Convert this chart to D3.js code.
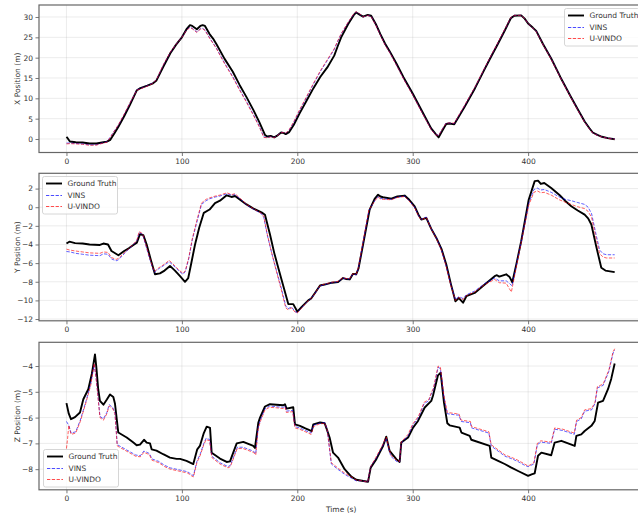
<!DOCTYPE html>
<html>
<head>
<meta charset="utf-8">
<script src="https://cdn.jsdelivr.net/npm/d3@7"></script>
<style>
  html, body { margin: 0; padding: 0; background: #fff; }
  svg { display: block; font-family: "DejaVu Sans", sans-serif; }
</style>
</head>
<body>
<svg id="chart" width="638" height="516"></svg>
<script>
// ---- data: [time (s), position (m)] ----
const timeTicks = [0, 100, 200, 300, 400];

const xTruth = [[0,0.5],[1,0.2],[3,-0.6],[8,-0.8],[14,-0.85],[20,-1.1],[26,-1.1],[32,-0.8],[35,-0.65],[38,-0.2],[42,1.6],[45,3.0],[50,5.6],[55,8.4],[61,12.0],[64,12.5],[70,13.1],[75,13.7],[78,14.4],[84,17.8],[90,21.1],[95,23.2],[100,25.0],[104,27.0],[107,28.0],[109,27.8],[113,27.0],[116,27.8],[118,28.0],[120,27.8],[124,25.8],[127,24.7],[130,23.3],[137,19.7],[144,16.6],[150,13.3],[156,10.3],[162,7.1],[167,4.2],[172,1.0],[174,0.6],[177,0.75],[180,0.4],[183,0.9],[186,1.6],[188,1.5],[190,1.2],[193,1.7],[197,3.5],[202,6.3],[208,9.4],[214,12.5],[220,15.3],[226,17.6],[232,20.5],[235,22.8],[238,25.0],[244,28.2],[249,30.5],[251,31.1],[254,30.6],[257,30.1],[261,30.5],[264,30.3],[268,28.3],[272,25.8],[276,23.5],[280,21.6],[286,18.5],[292,15.2],[300,11.2],[308,6.9],[316,2.6],[320,1.2],[322.5,0.4],[326,2.2],[329,3.7],[332,3.8],[336,3.6],[340,5.5],[345,7.9],[354,12.5],[362,17.0],[368,20.3],[374,23.5],[380,26.8],[385,29.7],[388,30.3],[394,30.4],[397,29.6],[400,28.4],[404,27.4],[407,26.6],[413,23.3],[420,19.8],[428,15.2],[437,10.4],[443,7.3],[449,4.3],[453,2.7],[456,1.6],[460,1.0],[464,0.55],[469,0.2],[475,-0.05]];
const xVins = [[0,-1.0],[3,-1.0],[8,-1.1],[14,-1.2],[20,-1.45],[26,-1.4],[32,-0.9],[35,-0.7],[38,0.5],[42,2.2],[45,3.4],[50,6.0],[55,8.8],[61,12.1],[64,12.4],[70,13.1],[75,13.8],[78,14.6],[84,18.2],[90,21.3],[95,23.3],[100,25.0],[104,26.8],[107,27.5],[109,27.2],[113,26.3],[116,27.1],[118,27.2],[120,26.8],[124,24.9],[127,23.6],[130,22.3],[137,18.7],[144,15.4],[150,12.2],[156,9.2],[162,6.0],[167,3.2],[171,0.5],[174,0.4],[177,0.6],[180,0.35],[183,0.95],[186,1.6],[188,1.6],[190,1.4],[193,2.2],[197,4.1],[202,7.0],[208,10.2],[214,13.5],[220,16.6],[226,19.3],[232,22.0],[235,24.0],[238,25.8],[244,28.6],[249,30.7],[251,31.2],[254,30.7],[257,30.0],[261,30.4],[264,30.2],[268,28.1],[272,25.6],[276,23.2],[280,21.4],[286,18.2],[292,14.9],[300,10.9],[308,6.6],[316,2.4],[320,1.1],[322.5,0.9],[326,2.6],[329,3.9],[332,3.9],[336,3.8],[340,5.8],[345,8.2],[354,12.7],[362,17.2],[368,20.5],[374,23.7],[380,27.0],[385,29.8],[388,30.4],[394,30.4],[397,29.6],[400,28.4],[404,27.3],[407,26.5],[413,23.2],[420,19.7],[428,15.1],[437,10.3],[443,7.2],[449,4.2],[453,2.6],[456,1.5],[460,0.95],[464,0.5],[469,0.2],[475,0.0]];
const xUvindo = [[0,-1.2],[3,-1.15],[8,-1.2],[14,-1.3],[20,-1.55],[26,-1.5],[32,-1.0],[35,-0.8],[38,0.4],[42,2.2],[45,3.5],[50,6.1],[55,8.9],[61,12.0],[64,12.3],[70,13.0],[75,13.7],[78,14.6],[84,18.3],[90,21.4],[95,23.3],[100,25.0],[104,26.7],[107,27.4],[109,27.1],[113,26.2],[116,27.0],[118,27.1],[120,26.7],[124,24.8],[127,23.5],[130,22.2],[137,18.5],[144,15.2],[150,12.0],[156,9.0],[162,5.8],[167,3.0],[171,0.4],[174,0.3],[177,0.55],[180,0.3],[183,0.9],[186,1.55],[188,1.6],[190,1.45],[193,2.3],[197,4.3],[202,7.2],[208,10.4],[214,13.7],[220,16.8],[226,19.5],[232,22.2],[235,24.1],[238,25.9],[244,28.7],[249,30.8],[251,31.3],[254,30.8],[257,30.0],[261,30.4],[264,30.1],[268,28.0],[272,25.5],[276,23.1],[280,21.3],[286,18.1],[292,14.8],[300,10.8],[308,6.5],[316,2.3],[320,1.0],[322.5,0.9],[326,2.6],[329,3.9],[332,3.95],[336,3.9],[340,5.9],[345,8.3],[354,12.8],[362,17.3],[368,20.6],[374,23.8],[380,27.1],[385,29.9],[388,30.4],[394,30.4],[397,29.6],[400,28.4],[404,27.3],[407,26.4],[413,23.1],[420,19.6],[428,15.0],[437,10.2],[443,7.1],[449,4.1],[453,2.5],[456,1.5],[460,0.9],[464,0.5],[469,0.15],[475,-0.05]];

const yTruth = [[0,-3.9],[2.5,-3.7],[7.5,-3.85],[14,-3.9],[20,-4.0],[29,-4.05],[32,-3.9],[36,-4.0],[39,-4.7],[45,-5.15],[50,-4.7],[54,-4.4],[58,-4.05],[61,-3.8],[63.7,-2.9],[66.6,-3.0],[69.5,-4.0],[73,-5.6],[76.7,-7.2],[81,-7.1],[85,-6.8],[89.7,-6.3],[94,-6.8],[98.4,-7.4],[102.7,-8.0],[105.5,-7.6],[108,-6.1],[111.4,-4.0],[115,-2.2],[119,-0.6],[124,-0.25],[128.7,0.45],[133,0.7],[138.8,1.28],[143,1.1],[146,1.2],[151,0.75],[156,0.3],[162,-0.15],[169,-0.55],[172,-0.8],[176.3,-2.9],[180,-4.9],[183.5,-6.5],[188,-8.5],[192.2,-10.4],[196.5,-10.4],[200,-11.2],[203.8,-10.7],[209.5,-10.0],[212,-9.8],[215.3,-9.2],[219.7,-8.4],[223.7,-8.3],[230,-8.1],[235.3,-8.04],[239.6,-7.6],[242,-7.7],[245.4,-7.75],[248.3,-7.15],[251,-7.2],[253,-6.6],[257,-4.0],[262.7,-0.25],[267,0.9],[270,1.35],[272,1.15],[274.3,1.07],[281.5,0.92],[286.7,1.15],[293,1.25],[297,0.8],[301.7,0.1],[305,-0.8],[307.5,-1.33],[311.8,-1.15],[316,-2.3],[320.5,-3.3],[325,-4.5],[329.1,-6.15],[333,-8.2],[337,-10.1],[340,-9.75],[343.6,-10.25],[346.5,-9.55],[353.7,-9.2],[362.4,-8.3],[371,-7.4],[373,-7.3],[375,-7.45],[381,-7.2],[384,-7.5],[386.3,-8.05],[390,-6.0],[394,-3.65],[400.5,0.8],[405.7,2.8],[408.6,2.85],[411,2.5],[414,2.6],[420,2.07],[427.4,1.28],[432,0.7],[437.4,0.1],[443,-0.35],[449,-0.8],[452,-1.2],[454.8,-1.86],[459,-4.2],[463.4,-6.5],[467,-6.8],[475,-6.97]];
const yVins = [[0,-4.75],[3,-4.8],[8,-4.95],[14,-5.05],[20,-5.15],[29,-5.2],[32,-5.0],[36,-5.05],[39,-5.55],[43,-5.75],[45,-5.65],[50,-5.0],[54,-4.5],[58,-4.0],[61,-3.6],[63,-2.7],[66,-2.9],[68.5,-4.0],[72,-5.5],[76,-7.0],[80,-6.6],[85,-6.2],[89,-5.85],[94,-6.4],[98,-6.9],[101,-7.2],[103,-6.9],[106,-5.5],[109,-3.5],[113,-1.6],[117,0.3],[121,0.7],[124,0.9],[129,1.1],[133,1.2],[139,1.45],[143,1.3],[146,1.35],[151,0.85],[156,0.25],[162,-0.2],[169,-0.7],[171,-1.1],[174,-3.0],[178,-5.0],[181.5,-6.6],[186,-8.6],[190,-10.6],[192,-10.9],[195,-10.7],[198,-11.2],[200,-11.3],[203,-10.9],[208,-10.2],[212,-9.8],[215,-9.3],[219.7,-8.45],[223.7,-8.3],[230,-8.1],[235.3,-8.0],[239.6,-7.6],[242,-7.7],[245.4,-7.7],[248,-7.2],[251,-7.25],[253,-6.5],[262,-0.4],[267,0.7],[270,1.15],[272,0.95],[274.3,0.9],[281.5,0.85],[286.7,1.1],[293,1.2],[297,0.7],[301.7,0.0],[305,-0.9],[307.5,-1.3],[311.8,-1.05],[316,-2.3],[320.5,-3.3],[325,-4.6],[329,-6.3],[333,-8.3],[337,-9.9],[340,-9.6],[343.6,-9.8],[346.5,-9.4],[353.7,-9.0],[362.4,-8.2],[371,-7.6],[375,-7.9],[381,-7.9],[384,-8.2],[386,-8.45],[390,-6.1],[394,-3.7],[400.5,0.4],[405,1.9],[408,2.05],[411,1.85],[414,1.9],[420,1.6],[427,1.1],[432,0.85],[437.4,0.7],[443,0.5],[449,0.3],[452,0.0],[455,-0.7],[459,-3.0],[462,-4.6],[465,-5.0],[468,-5.1],[475,-5.1]];
const yUvindo = [[0,-4.5],[3,-4.6],[8,-4.7],[14,-4.8],[20,-4.9],[29,-4.95],[32,-4.8],[36,-4.85],[39,-5.4],[43,-5.6],[45,-5.5],[50,-4.9],[54,-4.45],[58,-3.95],[61,-3.55],[63,-2.6],[66,-2.85],[68.5,-3.9],[72,-5.4],[76,-6.9],[80,-6.5],[85,-6.1],[89,-5.7],[94,-6.3],[98,-6.8],[101,-7.1],[103,-6.8],[106,-5.4],[109,-3.4],[113,-1.4],[117,0.45],[121,0.85],[124,1.0],[129,1.2],[133,1.3],[139,1.55],[143,1.35],[146,1.45],[151,0.9],[156,0.3],[162,-0.15],[169,-0.65],[171,-1.0],[174,-2.9],[178,-5.0],[181.5,-6.7],[186,-8.8],[190,-10.8],[192,-11.0],[195,-10.8],[198,-11.25],[200,-11.35],[203,-10.95],[208,-10.2],[212,-9.8],[215,-9.3],[219.7,-8.4],[223.7,-8.25],[230,-8.05],[235.3,-7.95],[239.6,-7.55],[242,-7.65],[245.4,-7.65],[248,-7.15],[251,-7.2],[253,-6.45],[262,-0.3],[267,0.65],[270,1.1],[272,0.9],[274.3,0.85],[281.5,0.8],[286.7,1.05],[293,1.15],[297,0.65],[301.7,-0.05],[305,-0.95],[307.5,-1.35],[311.8,-1.1],[316,-2.35],[320.5,-3.35],[325,-4.65],[329,-6.35],[333,-8.4],[337,-10.0],[340,-9.7],[343.6,-9.9],[346.5,-9.5],[353.7,-9.1],[362.4,-8.3],[371,-7.75],[375,-8.1],[381,-8.15],[384,-8.8],[385.5,-9.1],[390,-6.3],[394,-3.8],[400.5,0.2],[405,1.6],[408,1.75],[411,1.55],[414,1.6],[420,1.3],[427,0.8],[432,0.55],[437.4,0.3],[443,0.05],[449,-0.15],[452,-0.45],[455,-1.1],[459,-3.4],[462,-5.0],[465,-5.35],[468,-5.45],[475,-5.45]];

const zTruth = [[0,-5.44],[2,-5.85],[3.9,-6.06],[7.4,-5.98],[11.7,-5.8],[14.6,-5.29],[18.9,-4.9],[22,-4.3],[24.7,-3.55],[26,-4.1],[27.5,-4.9],[29,-5.35],[32,-5.5],[35,-5.3],[37.7,-5.1],[40.6,-5.2],[42,-5.45],[44.9,-6.58],[52.2,-6.77],[58,-6.97],[60.8,-7.07],[63.7,-7.05],[67.2,-6.86],[69.5,-6.97],[72.4,-7.0],[73.8,-7.23],[78,-7.28],[83.8,-7.42],[89.7,-7.55],[95.4,-7.6],[98.4,-7.6],[104,-7.68],[109.9,-7.8],[113.3,-7.23],[115.6,-7.1],[119,-6.6],[121.5,-6.35],[124.4,-6.4],[125.8,-7.36],[133,-7.59],[138.8,-7.72],[141.7,-7.7],[144.5,-7.36],[147.5,-7.0],[150.4,-6.97],[153.2,-6.94],[161.9,-7.1],[163.3,-7.18],[166.2,-6.2],[167.7,-6.0],[172,-5.57],[176.3,-5.48],[182,-5.5],[187.9,-5.52],[189.3,-5.48],[190.7,-5.65],[196.5,-5.6],[198,-6.26],[202.3,-6.32],[207,-6.42],[212.5,-6.52],[213.9,-6.26],[219.7,-6.19],[223.7,-6.22],[225,-6.38],[228,-6.77],[231,-7.36],[235.3,-7.55],[241,-8.0],[246.8,-8.29],[251.1,-8.41],[256,-8.45],[261.3,-8.49],[263.6,-7.94],[268.5,-7.61],[274.3,-7.1],[277.1,-6.74],[280,-7.29],[285.8,-7.61],[288.7,-7.72],[290.1,-6.97],[296,-6.77],[300.3,-6.39],[304.6,-6.13],[310.4,-5.61],[316.1,-5.35],[317.5,-5.16],[321.9,-4.36],[324.2,-4.26],[327.1,-5.42],[330,-6.22],[332,-6.3],[340.7,-6.39],[342.2,-6.58],[349.4,-6.71],[350.8,-6.86],[366.7,-7.1],[368.1,-7.55],[374,-7.68],[379.7,-7.8],[385.5,-7.94],[391.3,-8.07],[400,-8.26],[403,-8.2],[405.7,-8.16],[408.6,-7.48],[411.5,-7.36],[420,-7.46],[423,-6.97],[428.8,-6.9],[440.4,-7.1],[441.8,-6.71],[446.1,-6.65],[449,-6.52],[454.8,-6.32],[457.7,-6.13],[460.6,-5.42],[464.9,-5.35],[469.2,-4.9],[472,-4.5],[475,-3.9]];
const zVins = [[0,-6.15],[2,-6.3],[4,-6.6],[8,-6.55],[12,-6.1],[17,-5.35],[21,-4.7],[24,-3.95],[25.5,-4.4],[27,-5.0],[29,-5.95],[32,-6.05],[35,-5.8],[37,-5.5],[40,-5.6],[42,-5.8],[44,-7.05],[52,-7.25],[58,-7.4],[60,-7.45],[64,-7.48],[67,-7.3],[70,-7.35],[72,-7.4],[74,-7.6],[80,-7.7],[85,-7.85],[90,-7.95],[100,-8.05],[105,-8.1],[108,-8.2],[110,-8.25],[113,-7.7],[116,-7.4],[119,-7.0],[121,-6.8],[124,-6.85],[126,-7.5],[133,-7.75],[140,-7.9],[142,-7.85],[145,-7.5],[148,-7.15],[153,-7.15],[162,-7.3],[164,-7.4],[166,-6.4],[168,-6.1],[172,-5.65],[176,-5.55],[182,-5.58],[188,-5.6],[189.5,-5.55],[190.5,-5.75],[196,-5.72],[198,-6.35],[202,-6.4],[207,-6.5],[212,-6.6],[214,-6.3],[219,-6.22],[224,-6.2],[226,-6.5],[229.5,-7.8],[235,-8.0],[241,-8.2],[247,-8.35],[251,-8.45],[256,-8.45],[261,-8.5],[263.6,-7.9],[268,-7.6],[274,-7.1],[277,-6.8],[281,-7.5],[286,-7.7],[288.7,-7.72],[290,-7.0],[296,-6.7],[300,-6.3],[305,-6.0],[310,-5.45],[314,-5.35],[316,-5.1],[318,-4.9],[322,-4.05],[324,-4.1],[327,-5.2],[330,-5.85],[338,-5.9],[340,-5.9],[342,-6.15],[350,-6.2],[351,-6.4],[366,-6.6],[368,-7.1],[374,-7.3],[380,-7.5],[386,-7.6],[391,-7.7],[397,-7.85],[400,-7.9],[405,-7.8],[408,-7.05],[411,-6.95],[420,-7.0],[423,-6.45],[430,-6.5],[440,-6.65],[442,-6.15],[446,-6.05],[449,-5.75],[455,-5.7],[458,-5.45],[460,-4.85],[465,-4.75],[470,-4.2],[473.6,-3.5],[475,-3.38]];
const zUvindo = [[0,-7.2],[1,-6.8],[2,-6.3],[4,-6.65],[8,-6.6],[12,-6.15],[17,-5.4],[21,-4.75],[24,-3.9],[25.5,-4.4],[27,-5.05],[29,-6.0],[32,-6.1],[35,-5.85],[37,-5.55],[40,-5.65],[42,-5.85],[44,-7.1],[52,-7.3],[58,-7.45],[60,-7.5],[64,-7.52],[67,-7.35],[70,-7.4],[72,-7.45],[74,-7.65],[80,-7.75],[85,-7.9],[90,-8.0],[100,-8.1],[105,-8.15],[108,-8.25],[110,-8.3],[113,-7.75],[116,-7.45],[119,-7.05],[121,-6.85],[124,-6.9],[126,-7.55],[133,-7.8],[140,-7.95],[142,-7.9],[145,-7.55],[148,-7.2],[153,-7.2],[162,-7.35],[164,-7.45],[166,-6.45],[168,-6.15],[172,-5.7],[176,-5.6],[182,-5.62],[188,-5.65],[189.5,-5.6],[190.5,-5.8],[196,-5.77],[198,-6.4],[202,-6.45],[207,-6.55],[212,-6.65],[214,-6.35],[219,-6.25],[224,-6.22],[226,-6.5],[229.5,-7.75],[235,-7.95],[241,-8.15],[247,-8.3],[251,-8.42],[256,-8.45],[261,-8.5],[263.6,-7.9],[268,-7.55],[274,-7.05],[277,-6.75],[281,-7.45],[286,-7.65],[288.7,-7.7],[290,-6.95],[296,-6.65],[300,-6.25],[305,-5.95],[310,-5.4],[314,-5.3],[316,-5.05],[318,-4.85],[322,-4.0],[324,-4.05],[327,-5.15],[330,-5.8],[338,-5.85],[340,-5.85],[342,-6.1],[350,-6.15],[351,-6.35],[366,-6.55],[368,-7.05],[374,-7.25],[380,-7.45],[386,-7.55],[391,-7.65],[397,-7.8],[400,-7.88],[405,-7.75],[408,-7.0],[411,-6.9],[420,-6.95],[423,-6.4],[430,-6.45],[440,-6.6],[442,-6.1],[446,-6.0],[449,-5.7],[455,-5.65],[458,-5.4],[460,-4.8],[465,-4.7],[470,-4.15],[473.6,-3.45],[475,-3.33]];

const seriesNames = ["Ground Truth", "VINS", "U-VINDO"];

const panels = [
  { label: "X Position (m)", ticks: [0, 5, 10, 15, 20, 25, 30], domain: [-3.32, 32.95],
    series: [xTruth, xVins, xUvindo], legend: "upper right" },
  { label: "Y Position (m)", ticks: [-12, -10, -8, -6, -4, -2, 0, 2], domain: [-12.19, 3.64],
    series: [yTruth, yVins, yUvindo], legend: "upper left" },
  { label: "Z Position (m)", ticks: [-8, -7, -6, -5, -4], domain: [-8.80, -3.08],
    series: [zTruth, zVins, zUvindo], legend: "lower left" }
];

// ---- layout ----
const svg = d3.select("#chart");
const left = 39, right = 643.3;
const tops = [5, 173.3, 342.3];
const panelH = 147.5;
const fontSize = 7.5;
const textColor = "#333";

const styles = [
  { color: "#000", width: 1.9, dash: null, opacity: 1 },
  { color: "#0000ff", width: 0.9, dash: "3.3,1.5", opacity: 0.7 },
  { color: "#ff0000", width: 0.9, dash: "3.3,1.5", opacity: 0.7 }
];

const x = d3.scaleLinear().domain([-23.8, 499.8]).range([left, right]);

panels.forEach((p, i) => {
  const top = tops[i], bottom = top + panelH;
  const y = d3.scaleLinear().domain(p.domain).range([bottom, top]);
  const g = svg.append("g");

  const clipId = "clip" + i;
  svg.append("clipPath").attr("id", clipId)
    .append("rect").attr("x", left).attr("y", top).attr("width", right - left).attr("height", panelH);

  // grid
  g.append("g").selectAll("line").data(timeTicks).join("line")
    .attr("x1", d => x(d)).attr("x2", d => x(d)).attr("y1", top).attr("y2", bottom)
    .attr("stroke", "#b0b0b0").attr("stroke-opacity", 0.3).attr("stroke-width", 0.8);
  g.append("g").selectAll("line").data(p.ticks).join("line")
    .attr("x1", left).attr("x2", right).attr("y1", d => y(d)).attr("y2", d => y(d))
    .attr("stroke", "#b0b0b0").attr("stroke-opacity", 0.3).attr("stroke-width", 0.8);

  // series lines
  const line = d3.line().x(d => x(d[0])).y(d => y(d[1]));
  [0, 1, 2].forEach(k => {
    const s = styles[k];
    g.append("path").datum(p.series[k])
      .attr("clip-path", `url(#${clipId})`)
      .attr("d", line).attr("fill", "none")
      .attr("stroke", s.color).attr("stroke-width", s.width)
      .attr("stroke-opacity", s.opacity)
      .attr("stroke-dasharray", s.dash)
      .attr("stroke-linejoin", "round");
  });

  // axes
  const xAxis = d3.axisBottom(x).tickValues(timeTicks).tickSize(3.5).tickPadding(2.5)
    .tickFormat(d3.format("d"));
  const gx = g.append("g").attr("transform", `translate(0,${bottom})`).call(xAxis);
  const yAxis = d3.axisLeft(y).tickValues(p.ticks).tickSize(3.5).tickPadding(2.5)
    .tickFormat(d => d < 0 ? "\u2212" + Math.abs(d) : d);
  const gy = g.append("g").attr("transform", `translate(${left},0)`).call(yAxis);
  [gx, gy].forEach(a => {
    a.select(".domain").remove();
    a.selectAll(".tick line").attr("stroke", "#555").attr("stroke-width", 0.8);
    a.selectAll(".tick text").attr("fill", textColor).style("font-size", fontSize + "px")
      .style("font-family", "DejaVu Sans, sans-serif");
  });

  // frame
  g.append("rect").attr("x", left).attr("y", top).attr("width", right - left).attr("height", panelH)
    .attr("fill", "none").attr("stroke", "#666").attr("stroke-width", 1.2);

  // y label
  g.append("text")
    .attr("transform", `translate(17.5,${top + panelH / 2}) rotate(-90)`)
    .attr("text-anchor", "middle").attr("dominant-baseline", "central")
    .attr("fill", textColor).style("font-size", fontSize + "px")
    .text(p.label);

  // legend (positions snapped to whole pixels so the thin dashes stay crisp)
  const lw = 75, lh = 37.5;
  let lx, ly;
  if (p.legend === "upper right") { lx = 563.5; ly = top + 3; }
  else if (p.legend === "upper left") { lx = left + 3.3; ly = top + 2.2; }
  else { lx = left + 3.7; ly = bottom - 3 - lh; }
  lx = Math.round(lx) + 0.5; ly = Math.round(ly) + 0.5;
  const lg = g.append("g").attr("transform", `translate(${lx},${ly})`);
  lg.append("rect").attr("width", lw).attr("height", lh).attr("rx", 2)
    .attr("fill", "#fff").attr("fill-opacity", 0.8)
    .attr("stroke", "#ccc").attr("stroke-width", 0.8);
  seriesNames.forEach((name, k) => {
    const ry = 7 + k * 11.5;
    const s = styles[k];
    const ly2 = Math.round(ry);
    lg.append("line").attr("x1", 3.5).attr("x2", 19.5).attr("y1", ly2).attr("y2", ly2)
      .attr("stroke", s.color).attr("stroke-width", k === 0 ? s.width : 1)
      .attr("stroke-opacity", s.opacity)
      .attr("stroke-dasharray", s.dash);
    lg.append("text").attr("x", 25).attr("y", ry).attr("dominant-baseline", "central")
      .attr("fill", textColor).style("font-size", fontSize + "px").text(name);
  });
});

// shared x label
svg.append("text").attr("x", (left + right) / 2).attr("y", 509)
  .attr("text-anchor", "middle").attr("dominant-baseline", "central")
  .attr("fill", textColor).style("font-size", fontSize + "px").text("Time (s)");
</script>
</body>
</html>
